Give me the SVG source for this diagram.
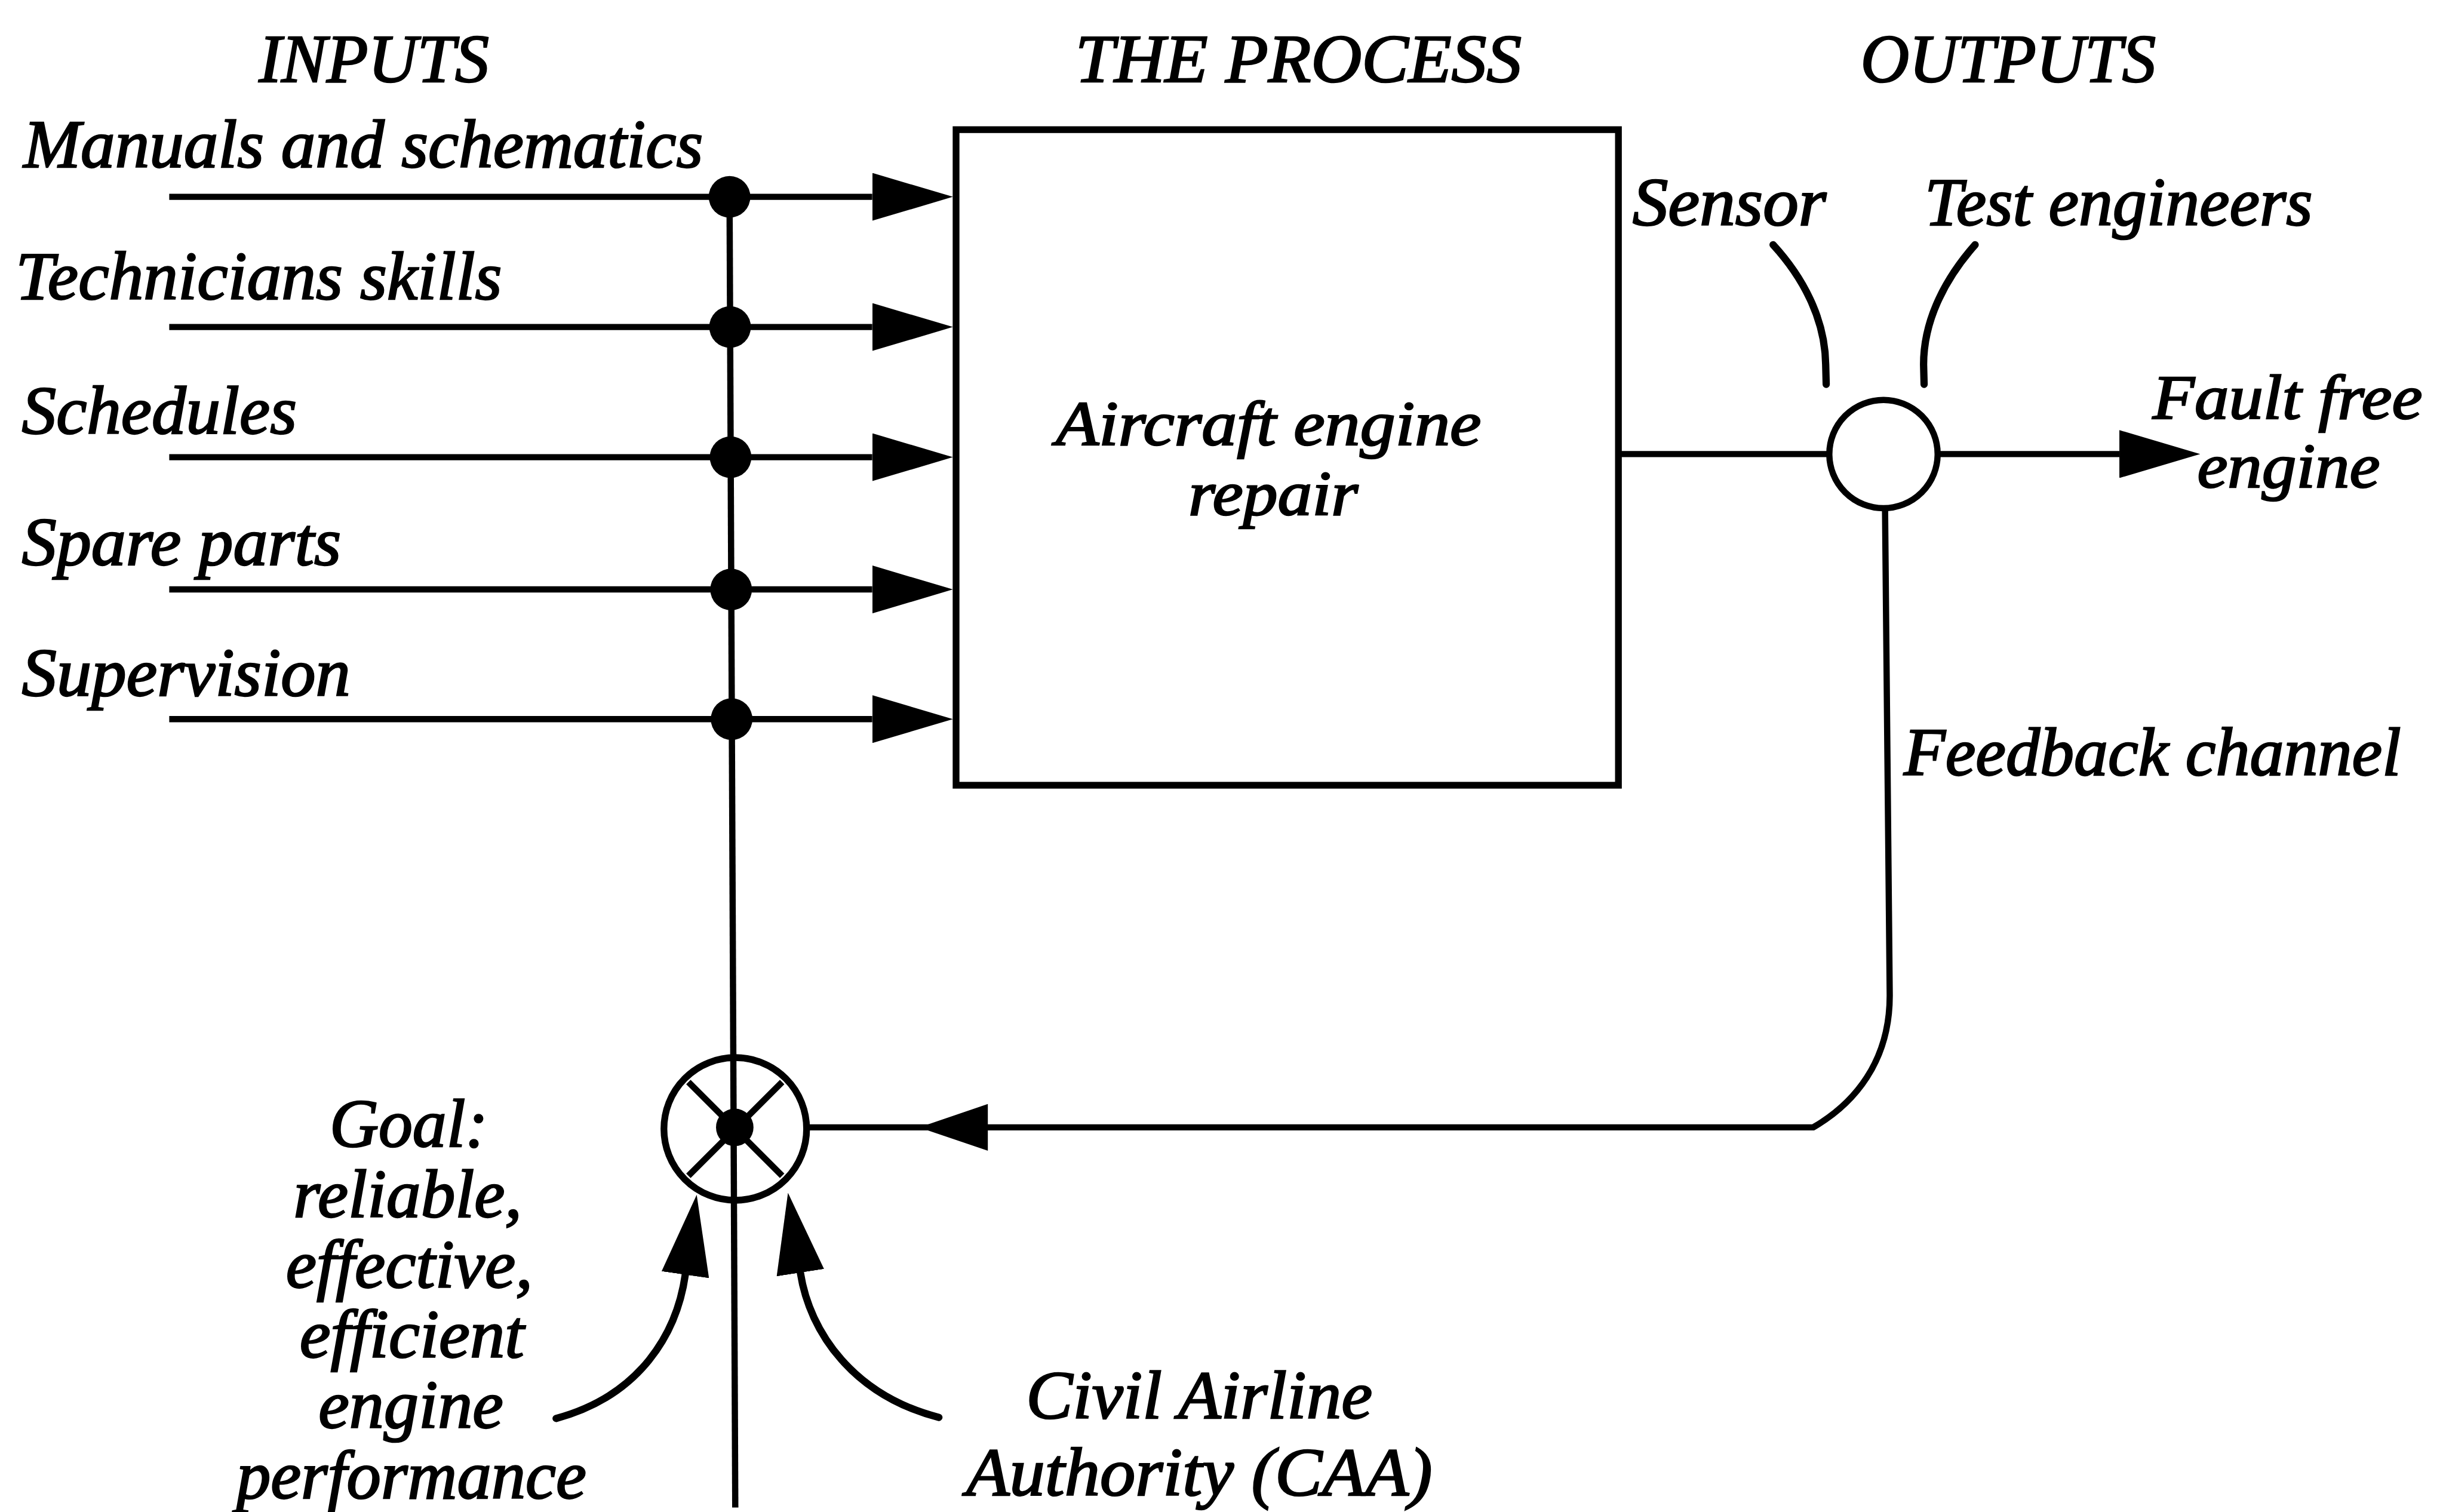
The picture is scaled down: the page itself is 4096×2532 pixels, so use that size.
<svg xmlns="http://www.w3.org/2000/svg" width="4096" height="2532" viewBox="0 0 4096 2532">
<style>
  text { font-family: "Liberation Serif", "Times New Roman", serif; font-style: italic; font-size: 132px; fill: #000; stroke: #000; stroke-width: 3; }
  .ln { fill: none; stroke: #000; stroke-width: 12; stroke-linecap: butt; }
  .cv { fill: none; stroke: #000; stroke-width: 14; stroke-linecap: round; }
  .mid { text-anchor: middle; }
  .tight { font-size: 122px; }
</style>
<defs>
  <marker id="ah" markerUnits="userSpaceOnUse" viewBox="0 0 155 92" markerWidth="155" markerHeight="92" refX="0" refY="46" orient="auto">
    <path d="M0,0 L155,46 L0,92 Z" fill="#000"/>
  </marker>
</defs>
<rect width="4096" height="2532" fill="#fff"/>
<g transform="scale(0.872)">
  <g id="titles">
    <text x="497" y="157" textLength="442" lengthAdjust="spacingAndGlyphs">INPUTS</text>
    <text x="2065" y="157" textLength="857" lengthAdjust="spacingAndGlyphs">THE PROCESS</text>
    <text x="3573" y="157" textLength="567" lengthAdjust="spacingAndGlyphs">OUTPUTS</text>
  </g>
  <g id="input-labels">
    <text x="45" y="321" textLength="1305" lengthAdjust="spacingAndGlyphs">Manuals and schematics</text>
    <text x="30" y="574" textLength="934" lengthAdjust="spacingAndGlyphs">Technicians skills</text>
    <text x="42" y="832" textLength="528" lengthAdjust="spacingAndGlyphs">Schedules</text>
    <text x="42" y="1085" textLength="613" lengthAdjust="spacingAndGlyphs">Spare parts</text>
    <text x="42" y="1336" textLength="631" lengthAdjust="spacingAndGlyphs">Supervision</text>
  </g>
  <g id="process">
    <rect x="1836" y="249" width="1272" height="1259" fill="none" stroke="#000" stroke-width="13"/>
    <text class="mid tight" x="2436" y="854" textLength="817" lengthAdjust="spacingAndGlyphs">Aircraft engine</text>
    <text class="mid tight" x="2445" y="988" textLength="326" lengthAdjust="spacingAndGlyphs">repair</text>
  </g>
  <g id="connectors">
    <path class="ln" d="M325,378 H1675" marker-end="url(#ah)"/>
    <path class="ln" d="M325,628 H1675" marker-end="url(#ah)"/>
    <path class="ln" d="M325,878 H1675" marker-end="url(#ah)"/>
    <path class="ln" d="M325,1132 H1675" marker-end="url(#ah)"/>
    <path class="ln" d="M325,1381 H1675" marker-end="url(#ah)"/>
    <path class="ln" d="M1401,378 L1412,2895"/>
    <path class="ln" d="M3108,872 H3514"/>
    <path class="ln" d="M3721,872 H4070" marker-end="url(#ah)"/>
    <path class="cv" d="M3405,470 C3460,530 3505,610 3506,700 L3507,738"/>
    <path class="cv" d="M3793,470 C3740,530 3694,610 3694,700 L3695,738"/>
    <path class="ln" d="M3620,977 L3629,1912 C3629,2040 3560,2120 3482,2165 L1550,2165"/>
    <path d="M1897,2120 L1765,2165 L1897,2210 Z" fill="#000"/>
    <path class="cv" d="M1068,2724 C1230,2680 1300,2560 1316,2448" marker-end="url(#ah)"/>
    <path class="cv" d="M1803,2722 C1640,2680 1555,2560 1537,2444" marker-end="url(#ah)"/>
  </g>
  <g id="junctions">
    <circle cx="1401" cy="378" r="40"/>
    <circle cx="1402" cy="628" r="40"/>
    <circle cx="1403" cy="878" r="40"/>
    <circle cx="1404" cy="1132" r="40"/>
    <circle cx="1405" cy="1381" r="40"/>
  </g>
  <g id="comparator">
    <circle cx="1412" cy="2168" r="137" fill="none" stroke="#000" stroke-width="13"/>
    <path class="ln" d="M1322,2078 L1502,2258 M1502,2078 L1322,2258" stroke-width="10"/>
    <circle cx="1411" cy="2165" r="36"/>
  </g>
  <g id="sensor">
    <circle cx="3617" cy="872" r="104" fill="#fff" stroke="#000" stroke-width="12"/>
  </g>
  <g id="output-labels">
    <text x="3135" y="432" textLength="372" lengthAdjust="spacingAndGlyphs">Sensor</text>
    <text x="3696" y="432" textLength="745" lengthAdjust="spacingAndGlyphs">Test engineers</text>
    <text class="mid tight" x="4393" y="804" textLength="518" lengthAdjust="spacingAndGlyphs">Fault free</text>
    <text class="mid tight" x="4395" y="936" textLength="351" lengthAdjust="spacingAndGlyphs">engine</text>
    <text x="3656" y="1488" textLength="955" lengthAdjust="spacingAndGlyphs">Feedback channel</text>
  </g>
  <g id="goal">
    <text class="mid" x="785" y="2202" textLength="304" lengthAdjust="spacingAndGlyphs">Goal:</text>
    <text class="mid" x="783" y="2337" textLength="439" lengthAdjust="spacingAndGlyphs">reliable,</text>
    <text class="mid" x="786" y="2472" textLength="474" lengthAdjust="spacingAndGlyphs">effective,</text>
    <text class="mid" x="791" y="2607" textLength="431" lengthAdjust="spacingAndGlyphs">efficient</text>
    <text class="mid" x="789" y="2742" textLength="355" lengthAdjust="spacingAndGlyphs">engine</text>
    <text class="mid" x="790" y="2877" textLength="672" lengthAdjust="spacingAndGlyphs">performance</text>
  </g>
  <g id="caa">
    <text class="mid" x="2303" y="2724" textLength="665" lengthAdjust="spacingAndGlyphs">Civil Airline</text>
    <text class="mid" x="2303" y="2872" textLength="895" lengthAdjust="spacingAndGlyphs">Authority (CAA)</text>
  </g>
</g>
</svg>
